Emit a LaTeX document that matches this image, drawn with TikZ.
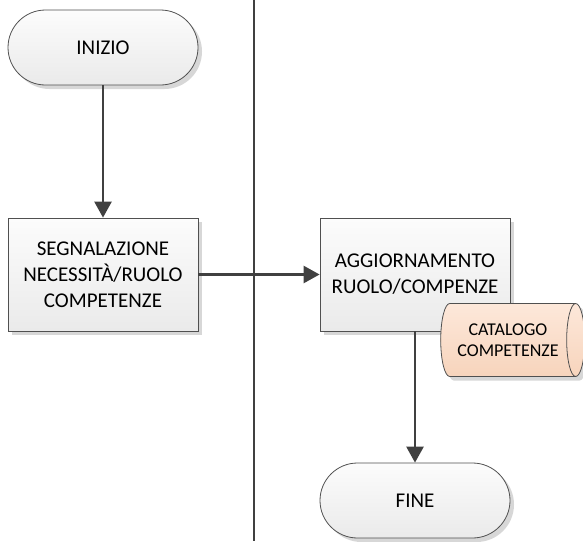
\documentclass[tikz,border=0pt]{standalone}
\usepackage{fontspec}
\setmainfont{Carlito}
\usetikzlibrary{shapes.geometric,arrows.meta,shadows}
\definecolor{linegray}{RGB}{64,64,64}
\definecolor{bordergray}{RGB}{80,80,80}
\definecolor{boxtop}{RGB}{252,252,252}
\definecolor{boxbot}{RGB}{234,234,234}
\definecolor{peachtop}{RGB}{253,232,218}
\definecolor{peachbot}{RGB}{247,212,188}
\definecolor{shadowgray}{RGB}{215,215,215}
\tikzset{
  basebox/.style={draw=bordergray, line width=0.8pt, top color=boxtop, bottom color=boxbot,
    font=\fontsize{21}{26}\selectfont, align=center, text=black,
    drop shadow={shadow xshift=4pt, shadow yshift=-4pt, fill=shadowgray, opacity=1}},
  procbox/.style={basebox, rectangle, minimum width=190pt, minimum height=113pt, inner sep=0pt},
  termbox/.style={basebox, rectangle, rounded corners=37.5pt, minimum width=190pt, minimum height=75pt, inner sep=0pt},
  storebox/.style={draw=bordergray, line width=0.8pt, cylinder, shape aspect=0.55,
    top color=peachtop, bottom color=peachbot,
    minimum width=73pt, minimum height=144pt, inner sep=0pt, align=center,
    font=\fontsize{18}{21}\selectfont,
    drop shadow={shadow xshift=4pt, shadow yshift=-4pt, fill=shadowgray, opacity=1}},
  flow/.style={draw=linegray, line width=2.6pt, -{Triangle[width=17pt,length=16pt]}, color=linegray},
  lane/.style={draw=linegray, line width=2pt}
}
\begin{document}
\begin{tikzpicture}[x=1pt,y=-1pt]
\useasboundingbox (0,0) rectangle (583,541);
\coordinate (laneTop) at (254,0);
\coordinate (laneBot) at (254,541);
\draw[lane] (laneTop) -- (laneBot);
\node[termbox] (inizio) at (103,47.5) {INIZIO};
\node[procbox] (segn) at (103,274.5) {SEGNALAZIONE\\NECESSITÀ/RUOLO\\COMPETENZE};
\node[procbox] (agg) at (415,274.5) {AGGIORNAMENTO\\RUOLO/COMPENZE};
\node[storebox] (cat) at (508,340) {CATALOGO\\COMPETENZE};
\node[termbox] (fine) at (415,500.5) {FINE};
\draw[flow] (inizio) -- (segn);
\draw[flow] (segn) -- (agg);
\draw[flow] (agg) -- (fine);
\end{tikzpicture}
\end{document}
